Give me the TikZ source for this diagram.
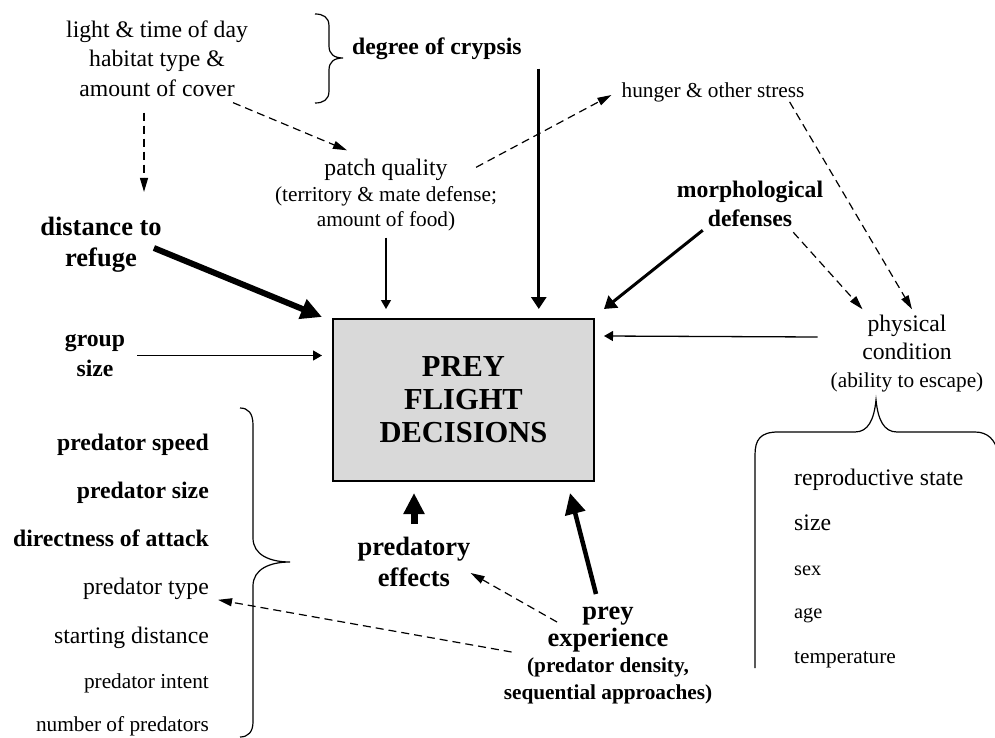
\documentclass[tikz,border=0pt]{standalone}
\usepackage{fontspec}
\setmainfont{Liberation Serif}
\usetikzlibrary{arrows.meta,calc}
\definecolor{boxgray}{gray}{0.85}
\newcommand{\fmain}{\fontsize{23.7}{29.5}\selectfont}
\newcommand{\fsmall}{\fontsize{21.3}{25}\selectfont}
\newcommand{\ftiny}{\fontsize{20.3}{24}\selectfont}
\newcommand{\fbold}{\fontsize{26.5}{30.5}\selectfont\bfseries}

\begin{document}
\begin{tikzpicture}[x=1pt, y=-1pt,
    txt/.style={inner sep=0pt, align=center, font=\fmain},
    decision/.style={draw, line width=2pt, fill=boxgray, minimum width=261pt, minimum height=162pt,
        inner sep=0pt, align=center, font=\fontsize{30.5}{33}\selectfont\bfseries},
    thinarr/.style={line width=1.3pt, -{Triangle[length=9pt,width=10pt]}},
    dasharr/.style={line width=1.2pt, dash pattern=on 8pt off 5pt, -{Triangle[length=14pt,width=8pt]}},
    thickarr/.style={line width=3pt, -{Triangle[length=12pt,width=15pt]}},
    heavyarr/.style={line width=#1, -{Triangle[length=21pt,width=20pt]}},
    heavyarr/.default=6pt,
    bracepath/.style={line width=1.2pt}]
    \useasboundingbox (0,0) rectangle (995,738);

    \node[txt] (light) at (157,58.5) {light \& time of day\\habitat type \&\\amount of cover};
    \node[txt, font=\fmain\bfseries, anchor=west] (crypsis) at (352,48.5) {degree of crypsis};
    \node[txt, font=\fontsize{23.7}{25.5}\selectfont] (patch) at (386,195.5)
        {patch quality\\{\fsmall (territory \& mate defense;}\\{\fsmall amount of food)}};
    \node[txt, font=\fsmall] (hunger) at (713,92) {hunger \& other stress};
    \node[txt, font=\fmain\bfseries] (morph) at (750,204) {morphological\\defenses};
    \node[txt, font=\fontsize{23.7}{28}\selectfont] (phys) at (907,354)
        {physical\\condition\\{\fsmall (ability to escape)}};
    \node[decision] (box) at (463.5,400) {PREY\\FLIGHT\\DECISIONS};
    \node[txt, font=\fbold] (dist) at (101,244.5) {distance to\\refuge};
    \node[txt, font=\fmain\bfseries] (group) at (95,355.5) {group\\size};
    \node[txt, font=\fbold] (predeff) at (414,562) {predatory\\effects};
    \node[txt, font=\fontsize{26.5}{26.5}\selectfont\bfseries] (prey) at (608,655.5)
        {prey\\experience\\{\fsmall (predator density,}\\{\fsmall sequential approaches)}};

    \node[txt, font=\fmain\bfseries, anchor=base east] (speed) at (209,450) {predator speed};
    \node[txt, font=\fmain\bfseries, anchor=base east] (predsize) at (209,498) {predator size};
    \node[txt, font=\fmain\bfseries, anchor=base east] (direct) at (209,546) {directness of attack};
    \node[txt, anchor=base east] (predtype) at (209,594) {predator type};
    \node[txt, anchor=base east] (startdist) at (209,643) {starting distance};
    \node[txt, font=\fsmall, anchor=base east] (intent) at (209,688) {predator intent};
    \node[txt, font=\fsmall, anchor=base east] (number) at (209,731) {number of predators};

    \node[txt, anchor=base west] (repro) at (794,485) {reproductive state};
    \node[txt, anchor=base west] (bodysize) at (794,530) {size};
    \node[txt, font=\ftiny, anchor=base west] (sex) at (794,575) {sex};
    \node[txt, font=\ftiny, anchor=base west] (age) at (794,618) {age};
    \node[txt, font=\fsmall, anchor=base west] (temp) at (794,663) {temperature};

    \draw[bracepath] (315,14) .. controls (323,14) and (329,17) .. (329,26) -- (329,46)
        .. controls (329,54) and (334,58) .. (343,58) .. controls (334,58) and (329,62) .. (329,70)
        -- (329,91) .. controls (329,100) and (323,103) .. (315,103);
    \draw[bracepath] (240,408) .. controls (248,408) and (253,413) .. (253,425) -- (253,538)
        .. controls (253,555) and (270,562) .. (290,562) .. controls (270,562) and (253,569) .. (253,586)
        -- (253,722) .. controls (253,732) and (248,737) .. (240,737);
    \draw[bracepath] (755,668) -- (755,455) .. controls (755,440) and (760,432) .. (778,432) -- (855,432)
        .. controls (868,432) and (874,420) .. (876,400) .. controls (878,420) and (884,432) .. (897,432)
        -- (975,432) .. controls (988,432) and (995,440) .. (998,452);

    \draw[dasharr] ($(light.south)+(-13,16)$) -- ($(dist.north)+(43,-25)$);
    \draw[dasharr] ($(light.south east)+(-15,6)$) -- ($(patch.north)+(-39,-9)$);
    \draw[dasharr] ($(patch.north east)+(-21,8)$) -- ($(hunger.west)+(-10,3)$);
    \draw[dasharr] ($(hunger.south east)+(-15,0)$) -- ($(phys.north)+(5,-6)$);
    \draw[dasharr] ($(morph.south east)+(-30,5)$) -- ($(phys.north west)+(32,-6)$);
    \draw[thickarr] ($(morph.south west)+(26,3)$) -- ($(box.north east)+(9,-9)$);
    \draw[thinarr] ($(phys.west)+(-13,-17)$) -- ($(box.north east)+(9,18)$);
    \draw[thinarr] ($(patch.south)+(0,6)$) -- ($(patch.south |- box.north)+(0,-9)$);
    \draw[thickarr] ($(crypsis.south east)+(17,9)$) -- ($(crypsis.south east |- box.north)+(17,-9)$);
    \draw[heavyarr] ($(dist.east)+(-8,3.5)$) -- ($(box.north west)+(-10,-1)$);
    \draw[thinarr] ($(group.east)+(12,0)$) -- ($(box.west |- group.east)+(-10,0)$);
    \draw[heavyarr=7pt] ($(predeff.north)+(0,-13)$) -- ($(predeff.north |- box.south)+(0,11)$);
    \draw[heavyarr=4.5pt] ($(prey.north)+(-12,-13)$) -- ($(box.south east)+(-25,11)$);
    \draw[dasharr] ($(prey.north)+(-51,15)$) -- ($(predeff.east)+(0,11)$);
    \draw[dasharr] ($(prey.west)+(8,-3.5)$) -- ($(predtype.east)+(9,11.5)$);
\end{tikzpicture}
\end{document}
